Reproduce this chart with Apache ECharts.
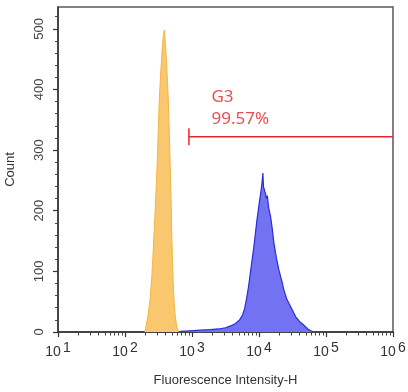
<!DOCTYPE html>
<html>
<head>
<meta charset="utf-8">
<script src="https://cdn.jsdelivr.net/npm/echarts@6/dist/echarts.min.js"></script>
<style>html,body{margin:0;padding:0;background:#fff}#c{width:408px;height:392px}</style>
</head>
<body>
<div id="c"></div>
<script>
// ---- data ----
var orangeX = [198, 207, 222, 236, 251, 264, 279, 296, 309, 325, 342, 360, 373, 386, 400, 414, 428, 443, 458, 472, 485, 497, 510, 525, 540, 560, 590, 625];
var orangeY = [0, 10, 30, 52, 90, 135, 190, 252, 310, 383, 430, 468, 488, 498, 478, 450, 420, 383, 330, 280, 230, 170, 120, 80, 52, 28, 10, 0];
var blueX = [670, 946, 1336, 1885, 2483, 3162, 3758, 4466, 5128, 5680, 6085, 6520, 6986, 7485, 8020, 8593, 9206, 9864, 10380, 10935, 11200, 11430, 11650, 11915, 12200, 12550, 12900, 13310, 13930, 14920, 15990, 16720, 18340, 19850, 21780, 23590, 25880, 28040, 31860, 35310, 40540, 47010, 53430, 59210, 65600];
var blueY = [1, 2, 3, 4, 5, 7, 10, 14, 20, 28, 38, 55, 75, 100, 125, 150, 180, 205, 222, 240, 250, 262, 240, 238, 232, 228, 220, 225, 205, 190, 165, 146, 120, 102, 85, 69, 55, 47, 35, 25, 17, 11, 5, 2, 0];
var gateStart = 900, gateEnd = 1000000, gateLevel = 322, gateCapLow = 308, gateCapHigh = 336;
var gateName = 'G3', gatePct = '99.57%';
var gateLabelX = 1950, gateLabelY = 369;
var xMajor = [10, 100, 1000, 10000, 100000, 1000000];
var xMinor = [20, 30, 40, 50, 60, 70, 80, 90,
  200, 300, 400, 500, 600, 700, 800, 900,
  2000, 3000, 4000, 5000, 6000, 7000, 8000, 9000,
  20000, 30000, 40000, 50000, 60000, 70000, 80000, 90000,
  200000, 300000, 400000, 500000, 600000, 700000, 800000, 900000];
var yMajor = [0, 100, 200, 300, 400, 500];
var yMax = 536;

// ---- build ----
function zip(a, b) { return a.map(function (v, i) { return [v, b[i]]; }); }

var chart = echarts.init(document.getElementById('c'));
var font = 'Liberation Sans, Arial';
chart.setOption({
  animation: false,
  grid: { left: 58, right: 15, top: 7, bottom: 60, show: true, borderColor: '#5a5a5a', borderWidth: 1.5, outerBoundsMode: 'none' },
  xAxis: [{
    type: 'log', logBase: 10, min: 10, max: 1000000,
    name: 'Fluorescence Intensity-H', nameLocation: 'middle', nameGap: 42,
    nameTextStyle: { fontFamily: font, fontSize: 13, color: '#333' },
    axisLine: { show: true, lineStyle: { color: '#333', width: 1.5 } },
    axisTick: { show: true, length: 5, customValues: xMajor, lineStyle: { color: '#333', width: 1.2 } },
    splitLine: { show: false }, minorTick: { show: false },
    axisLabel: {
      customValues: xMajor, margin: 9,
      formatter: function (v) { return '{b|10}{e|' + Math.round(Math.log10(v)) + '}'; },
      rich: {
        b: { fontFamily: font, fontSize: 14, color: '#333', verticalAlign: 'bottom' },
        e: { fontFamily: font, fontSize: 14, color: '#333', verticalAlign: 'bottom', padding: [0, 0, 4, 2] }
      }
    }
  }, {
    type: 'log', logBase: 10, min: 10, max: 1000000, position: 'bottom', offset: 0,
    axisLine: { show: true, lineStyle: { color: 'rgba(0,0,0,0)', width: 0 } },
    axisTick: { show: true, length: 3.5, customValues: xMinor, lineStyle: { color: '#444', width: 1 } },
    axisLabel: { show: true, customValues: xMinor, formatter: function () { return ''; } },
    splitLine: { show: false }, minorTick: { show: false }
  }],
  yAxis: {
    type: 'value', min: 0, max: yMax, interval: 100,
    name: 'Count', nameLocation: 'middle', nameGap: 41,
    nameTextStyle: { fontFamily: font, fontSize: 13, color: '#333' },
    axisLine: { show: true, lineStyle: { color: '#333', width: 1.5 } },
    axisTick: { show: true, length: 5, customValues: yMajor, lineStyle: { color: '#333', width: 1.2 } },
    minorTick: { show: true, splitNumber: 5, length: 3, lineStyle: { color: '#444', width: 1 } },
    splitLine: { show: false },
    axisLabel: { customValues: yMajor, rotate: 90, margin: 12, fontFamily: font, fontSize: 13, color: '#444' }
  },
  series: [
    {
      type: 'line', data: zip(orangeX, orangeY), symbol: 'none',
      lineStyle: { color: '#f5b446', width: 1 }, areaStyle: { color: '#f9c76e', opacity: 1 }
    },
    {
      type: 'line', data: zip(blueX, blueY), symbol: 'none',
      lineStyle: { color: '#2b2be0', width: 1.2 }, areaStyle: { color: '#7272f2', opacity: 1 }
    },
    {
      type: 'line', data: [[gateStart, gateLevel], [gateEnd, gateLevel]], symbol: 'none',
      lineStyle: { color: '#e5262b', width: 1.5 }
    },
    {
      type: 'line', data: [[gateStart, gateCapLow], [gateStart, gateCapHigh]], symbol: 'none',
      lineStyle: { color: '#e5262b', width: 1.5 }
    },
    {
      type: 'scatter', data: [[gateLabelX, gateLabelY]], symbolSize: 0, silent: true,
      label: {
        show: true, position: 'right', distance: 0, formatter: gateName + '\n' + gatePct,
        fontFamily: 'Noto Sans', fontSize: 17, lineHeight: 22, color: '#e3222a', align: 'left'
      }
    }
  ]
});
</script>
</body>
</html>
